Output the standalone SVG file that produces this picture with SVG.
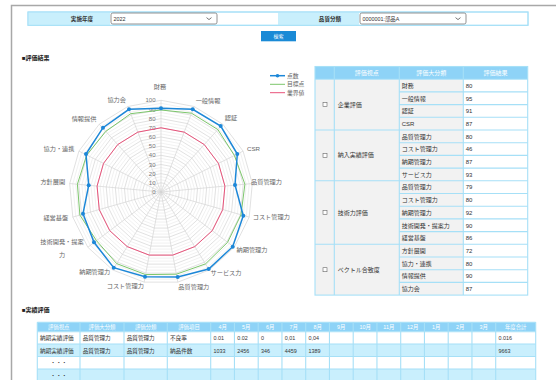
<svg xmlns="http://www.w3.org/2000/svg" xmlns:xlink="http://www.w3.org/1999/xlink" width="556" height="380" viewBox="0 0 556 380">
<style>
text{font-family:'Liberation Sans','Noto Sans CJK JP',sans-serif;}
.lab{font-size:5.6px;font-weight:bold;fill:#333;text-anchor:middle}
.sel{font-size:5.4px;fill:#333}
.sec{font-size:6px;font-weight:bold;fill:#222}
.ax{font-size:6.2px;fill:#666;text-anchor:middle}
.tk{font-size:6px;fill:#777;text-anchor:end}
.lg{font-size:5.8px;fill:#666}
.th{font-size:6px;fill:#fff;text-anchor:middle}
.td{font-size:6px;fill:#333}
.bh{font-size:5.4px;fill:#fff;text-anchor:middle}
.bd{font-size:5.6px;fill:#333}
.bd2{font-size:5.4px;fill:#333}
.grid{fill:none;stroke:#d4d4d4;stroke-width:0.7}
.minor{fill:none;stroke:#e8e8e8;stroke-width:0.6}
.bl{stroke:#a6e0f7;stroke-width:1.1;fill:none}
</style>
<defs>
<polygon id="ring" vector-effect="non-scaling-stroke" points="0,-100 36.124,-93.247 67.370,-73.901 89.516,-44.573 99.573,-9.227 96.183,27.366 79.802,60.263 52.643,85.022 18.375,98.297 -18.375,98.297 -52.643,85.022 -79.802,60.263 -96.183,27.366 -99.573,-9.227 -89.516,-44.573 -67.370,-73.901 -36.124,-93.247"/>
</defs>
<rect width="556" height="380" fill="#fff"/>
<path d="M11.5 380V5.5H556" fill="none" stroke="#a8a8a8" stroke-width="1.5"/>

<g id="filter">
<rect x="28" y="12" width="500" height="13.3" fill="#fff" stroke="#a6e0f7" stroke-width="1"/>
<rect x="28" y="12" width="82" height="13.3" fill="#c9effc"/>
<rect x="278" y="12" width="81" height="13.3" fill="#c9effc"/>
<rect x="28" y="12" width="500" height="13.3" fill="none" stroke="#a6e0f7" stroke-width="1"/>
<text class="lab" x="82" y="20.5">実施年度</text>
<text class="lab" x="330" y="20.5">品質分類</text>
<rect x="111" y="13" width="106" height="11" rx="1.8" fill="#fff" stroke="#777" stroke-width="0.8"/>
<text class="sel" x="113.5" y="20.6">2022</text>
<path d="M206.5 17.6l2.5 2 2.5-2" fill="none" stroke="#555" stroke-width="0.8"/>
<rect x="360" y="13" width="106" height="11" rx="1.8" fill="#fff" stroke="#777" stroke-width="0.8"/>
<text class="sel" x="362.5" y="20.6">0000001:部品A</text>
<path d="M455.5 17.6l2.5 2 2.5-2" fill="none" stroke="#555" stroke-width="0.8"/>
</g>
<g id="search">
<rect x="261" y="31" width="35" height="10.3" fill="#1a8ad6"/>
<text x="278.5" y="38.2" style="font-size:5px;fill:#fff;text-anchor:middle">検索</text>
</g>

<text class="sec" x="22" y="60">■評価結果</text>

<g id="radar">
<g class="minor">
<use xlink:href="#ring" transform="translate(161 192) scale(0.03057)"/>
<use xlink:href="#ring" transform="translate(161 192) scale(0.06113)"/>
<use xlink:href="#ring" transform="translate(161 192) scale(0.12227)"/>
<use xlink:href="#ring" transform="translate(161 192) scale(0.15283)"/>
<use xlink:href="#ring" transform="translate(161 192) scale(0.21397)"/>
<use xlink:href="#ring" transform="translate(161 192) scale(0.24453)"/>
<use xlink:href="#ring" transform="translate(161 192) scale(0.30567)"/>
<use xlink:href="#ring" transform="translate(161 192) scale(0.33623)"/>
<use xlink:href="#ring" transform="translate(161 192) scale(0.39737)"/>
<use xlink:href="#ring" transform="translate(161 192) scale(0.42793)"/>
<use xlink:href="#ring" transform="translate(161 192) scale(0.48907)"/>
<use xlink:href="#ring" transform="translate(161 192) scale(0.51963)"/>
<use xlink:href="#ring" transform="translate(161 192) scale(0.58077)"/>
<use xlink:href="#ring" transform="translate(161 192) scale(0.61133)"/>
<use xlink:href="#ring" transform="translate(161 192) scale(0.67247)"/>
<use xlink:href="#ring" transform="translate(161 192) scale(0.70303)"/>
<use xlink:href="#ring" transform="translate(161 192) scale(0.76417)"/>
<use xlink:href="#ring" transform="translate(161 192) scale(0.79473)"/>
<use xlink:href="#ring" transform="translate(161 192) scale(0.85587)"/>
<use xlink:href="#ring" transform="translate(161 192) scale(0.88643)"/>
</g>
<g class="grid">
<use xlink:href="#ring" transform="translate(161 192) scale(0.0917)"/>
<use xlink:href="#ring" transform="translate(161 192) scale(0.1834)"/>
<use xlink:href="#ring" transform="translate(161 192) scale(0.2751)"/>
<use xlink:href="#ring" transform="translate(161 192) scale(0.3668)"/>
<use xlink:href="#ring" transform="translate(161 192) scale(0.4585)"/>
<use xlink:href="#ring" transform="translate(161 192) scale(0.5502)"/>
<use xlink:href="#ring" transform="translate(161 192) scale(0.6419)"/>
<use xlink:href="#ring" transform="translate(161 192) scale(0.7336)"/>
<use xlink:href="#ring" transform="translate(161 192) scale(0.8253)"/>
<use xlink:href="#ring" transform="translate(161 192) scale(0.917)"/>
</g>
<g transform="translate(161 192) scale(0.917)">
<path class="grid" vector-effect="non-scaling-stroke" d="M0 0L0,-100M0 0L36.124,-93.247M0 0L67.370,-73.901M0 0L89.516,-44.573M0 0L99.573,-9.227M0 0L96.183,27.366M0 0L79.802,60.263M0 0L52.643,85.022M0 0L18.375,98.297M0 0L-18.375,98.297M0 0L-52.643,85.022M0 0L-79.802,60.263M0 0L-96.183,27.366M0 0L-99.573,-9.227M0 0L-89.516,-44.573M0 0L-67.370,-73.901M0 0L-36.124,-93.247"/>
</g>
<g>
<text class="tk" x="155.5" y="194">0</text>
<text class="tk" x="155.5" y="184.8">10</text>
<text class="tk" x="155.5" y="175.7">20</text>
<text class="tk" x="155.5" y="166.5">30</text>
<text class="tk" x="155.5" y="157.3">40</text>
<text class="tk" x="155.5" y="148.2">50</text>
<text class="tk" x="155.5" y="139">60</text>
<text class="tk" x="155.5" y="129.8">70</text>
<text class="tk" x="155.5" y="120.6">80</text>
<text class="tk" x="155.5" y="111.5">90</text>
<text class="tk" x="155.5" y="102.3">100</text>
</g>
<use xlink:href="#ring" transform="translate(161 192) scale(0.642)" style="fill:none;stroke:#e9537b;stroke-width:1"/>
<polygon fill="none" stroke="#7cc66b" stroke-width="1" points="161,110 191.5,113.2 217.9,129.6 234.4,155.5 244.9,184.2 241,214.8 227.6,242.3 205.5,263.9 176.4,274.2 145.6,274.6 116.7,263.6 96.5,240.7 79.9,215.1 77.4,184.2 86.7,155 105.8,131.4 130.7,113.7"/>
<polygon fill="none" stroke="#1c87d8" stroke-width="1.5" points="161,108.3 192.7,109.3 220.7,126 237.3,154 235,185 243.3,215.7 232.7,246.7 208.7,269 177.7,277 145,276.7 113.7,267.7 94,242.3 83,213.7 88.7,185.3 86,154 103,127.7 129,109.3"/>
<g fill="#1c87d8">
<circle cx="161" cy="108.3" r="2"/><circle cx="192.7" cy="109.3" r="2"/><circle cx="220.7" cy="126" r="2"/><circle cx="237.3" cy="154" r="2"/><circle cx="235" cy="185" r="2"/><circle cx="243.3" cy="215.7" r="2"/><circle cx="232.7" cy="246.7" r="2"/><circle cx="208.7" cy="269" r="2"/><circle cx="177.7" cy="277" r="2"/><circle cx="145" cy="276.7" r="2"/><circle cx="113.7" cy="267.7" r="2"/><circle cx="94" cy="242.3" r="2"/><circle cx="83" cy="213.7" r="2"/><circle cx="88.7" cy="185.3" r="2"/><circle cx="86" cy="154" r="2"/><circle cx="103" cy="127.7" r="2"/><circle cx="129" cy="109.3" r="2"/>
</g>
<g>
<text class="ax" x="160" y="89">財務</text>
<text class="ax" x="208" y="103">一般情報</text>
<text class="ax" x="231" y="120.3">認証</text>
<text class="ax" x="253.5" y="151.3">CSR</text>
<text class="ax" x="266.5" y="184">品質管理力</text>
<text class="ax" x="271.3" y="219.3">コスト管理力</text>
<text class="ax" x="252" y="252">納期管理力</text>
<text class="ax" x="226" y="274.7">サービス力</text>
<text class="ax" x="193.8" y="288.7">品質管理力</text>
<text class="ax" x="125.3" y="288">コスト管理力</text>
<text class="ax" x="94.7" y="274.3">納期管理力</text>
<text class="ax" x="62" y="244.3">技術開発・提案</text>
<text class="ax" x="62" y="257.3">力</text>
<text class="ax" x="55.8" y="219.7">経営基盤</text>
<text class="ax" x="52.8" y="184">方針展開</text>
<text class="ax" x="59" y="151">協力・連携</text>
<text class="ax" x="84" y="121">情報提供</text>
<text class="ax" x="116.7" y="102.3">協力会</text>
</g>
<g id="legend">
<line x1="270" y1="75.7" x2="285" y2="75.7" stroke="#1c87d8" stroke-width="1.5"/>
<circle cx="277.5" cy="75.7" r="1.8" fill="#1c87d8"/>
<text class="lg" x="287" y="77.8">点数</text>
<line x1="270" y1="84.3" x2="285" y2="84.3" stroke="#7cc66b" stroke-width="1"/>
<text class="lg" x="287" y="86.4">目標点</text>
<line x1="270" y1="92.7" x2="285" y2="92.7" stroke="#e9537b" stroke-width="1"/>
<text class="lg" x="287" y="94.8">業界値</text>
</g>
</g>

<g id="result-table">
<rect x="315" y="66.5" width="212.7" height="12.7" fill="#8ed3f7"/>
<rect x="315" y="79.2" width="148.3" height="215.9" fill="#f2f2f2"/>
<rect x="463.3" y="79.2" width="64.4" height="215.9" fill="#fff"/>
<text class="th" x="366.8" y="75">評価視点</text>
<text class="th" x="431.3" y="75">評価大分類</text>
<text class="th" x="495.5" y="75">評価結果</text>
<path class="bl" d="M399.3 91.9H527.7M399.3 104.6H527.7M399.3 117.3H527.7M399.3 142.7H527.7M399.3 155.4H527.7M399.3 168.1H527.7M399.3 193.5H527.7M399.3 206.2H527.7M399.3 218.9H527.7M399.3 231.6H527.7M399.3 257H527.7M399.3 269.7H527.7M399.3 282.4H527.7"/>
<path class="bl" d="M315 79.2H527.7M315 130H527.7M315 180.8H527.7M315 244.3H527.7"/>
<path class="bl" d="M334.3 66.5V295.1M399.3 66.5V295.1M463.3 66.5V295.1"/>
<rect class="bl" x="315" y="66.5" width="212.7" height="228.6"/>
<g fill="#fff" stroke="#666" stroke-width="0.6">
<rect x="323" y="102.6" width="4" height="4"/>
<rect x="323" y="153.4" width="4" height="4"/>
<rect x="323" y="210.5" width="4" height="4"/>
<rect x="323" y="267.7" width="4" height="4"/>
</g>
<text class="td" x="337.7" y="106.6">企業評価</text>
<text class="td" x="337.7" y="157.4">納入実績評価</text>
<text class="td" x="337.7" y="214.5">技術力評価</text>
<text class="td" x="337.7" y="271.7">ベクトル合致度</text>
<g class="td">
<text class="td" x="401.7" y="87.8">財務</text><text class="td" x="465.7" y="87.8">80</text>
<text class="td" x="401.7" y="100.5">一般情報</text><text class="td" x="465.7" y="100.5">95</text>
<text class="td" x="401.7" y="113.2">認証</text><text class="td" x="465.7" y="113.2">91</text>
<text class="td" x="401.7" y="125.9">CSR</text><text class="td" x="465.7" y="125.9">87</text>
<text class="td" x="401.7" y="138.6">品質管理力</text><text class="td" x="465.7" y="138.6">80</text>
<text class="td" x="401.7" y="151.3">コスト管理力</text><text class="td" x="465.7" y="151.3">46</text>
<text class="td" x="401.7" y="164">納期管理力</text><text class="td" x="465.7" y="164">87</text>
<text class="td" x="401.7" y="176.7">サービス力</text><text class="td" x="465.7" y="176.7">93</text>
<text class="td" x="401.7" y="189.4">品質管理力</text><text class="td" x="465.7" y="189.4">79</text>
<text class="td" x="401.7" y="202.1">コスト管理力</text><text class="td" x="465.7" y="202.1">80</text>
<text class="td" x="401.7" y="214.8">納期管理力</text><text class="td" x="465.7" y="214.8">92</text>
<text class="td" x="401.7" y="227.5">技術開発・提案力</text><text class="td" x="465.7" y="227.5">90</text>
<text class="td" x="401.7" y="240.2">経営基盤</text><text class="td" x="465.7" y="240.2">86</text>
<text class="td" x="401.7" y="252.9">方針展開</text><text class="td" x="465.7" y="252.9">72</text>
<text class="td" x="401.7" y="265.6">協力・連携</text><text class="td" x="465.7" y="265.6">80</text>
<text class="td" x="401.7" y="278.3">情報提供</text><text class="td" x="465.7" y="278.3">90</text>
<text class="td" x="401.7" y="291">協力会</text><text class="td" x="465.7" y="291">87</text>
</g>
</g>

<text class="sec" x="22" y="312">■実績評価</text>

<g id="actual-table">
<rect x="37.3" y="322.3" width="498.4" height="9.4" fill="#8ed3f7"/>
<rect x="37.3" y="331.7" width="498.4" height="12.3" fill="#fff"/>
<rect x="37.3" y="344" width="498.4" height="12.5" fill="#c9effd"/>
<rect x="37.3" y="356.5" width="498.4" height="12.5" fill="#fff"/>
<rect x="37.3" y="369" width="498.4" height="12.5" fill="#c9effd"/>
<path class="bl" d="M37.3 322.3H535.7M37.3 331.7H535.7M37.3 344H535.7M37.3 356.5H535.7M37.3 369H535.7"/>
<path class="bl" d="M37.3 322.3V381M80 322.3V381M124 322.3V381M167.3 322.3V381M210.7 322.3V381M234.45 322.3V381M258.2 322.3V381M281.95 322.3V381M305.7 322.3V381M329.45 322.3V381M353.2 322.3V381M376.95 322.3V381M400.7 322.3V381M424.45 322.3V381M448.2 322.3V381M471.95 322.3V381M495.7 322.3V381M535.7 322.3V381"/>
<text class="bh" x="58.7" y="329">評価視点</text>
<text class="bh" x="102" y="329">評価大分類</text>
<text class="bh" x="145.7" y="329">評価分類</text>
<text class="bh" x="189" y="329">評価項目</text>
<text class="bh" x="222.6" y="329">4月</text>
<text class="bh" x="246.3" y="329">5月</text>
<text class="bh" x="270.1" y="329">6月</text>
<text class="bh" x="293.8" y="329">7月</text>
<text class="bh" x="317.6" y="329">8月</text>
<text class="bh" x="341.3" y="329">9月</text>
<text class="bh" x="365.1" y="329">10月</text>
<text class="bh" x="388.8" y="329">11月</text>
<text class="bh" x="412.6" y="329">12月</text>
<text class="bh" x="436.3" y="329">1月</text>
<text class="bh" x="460.1" y="329">2月</text>
<text class="bh" x="483.8" y="329">3月</text>
<text class="bh" x="515.7" y="329">年度合計</text>
<text class="bd" x="40" y="340">納期実績評価</text>
<text class="bd" x="82.7" y="340">品質管理力</text>
<text class="bd" x="126.7" y="340">品質管理力</text>
<text class="bd" x="170" y="340">不良率</text>
<text class="bd2" x="213.4" y="340">0.01</text>
<text class="bd2" x="237.2" y="340">0.02</text>
<text class="bd2" x="260.9" y="340">0</text>
<text class="bd2" x="284.7" y="340">0,01</text>
<text class="bd2" x="308.4" y="340">0,04</text>
<text class="bd2" x="498.4" y="340">0.016</text>
<text class="bd" x="40" y="352.5">納期実績評価</text>
<text class="bd" x="82.7" y="352.5">品質管理力</text>
<text class="bd" x="126.7" y="352.5">品質管理力</text>
<text class="bd" x="170" y="352.5">納品件数</text>
<text class="bd2" x="213.4" y="352.5">1033</text>
<text class="bd2" x="237.2" y="352.5">2456</text>
<text class="bd2" x="260.9" y="352.5">346</text>
<text class="bd2" x="284.7" y="352.5">4459</text>
<text class="bd2" x="308.4" y="352.5">1389</text>
<text class="bd2" x="498.4" y="352.5">9663</text>
<text class="bd" x="58.7" y="365" text-anchor="middle">・・・</text>
<text class="bd" x="58.7" y="377.5" text-anchor="middle">・・・</text>
</g>
</svg>
